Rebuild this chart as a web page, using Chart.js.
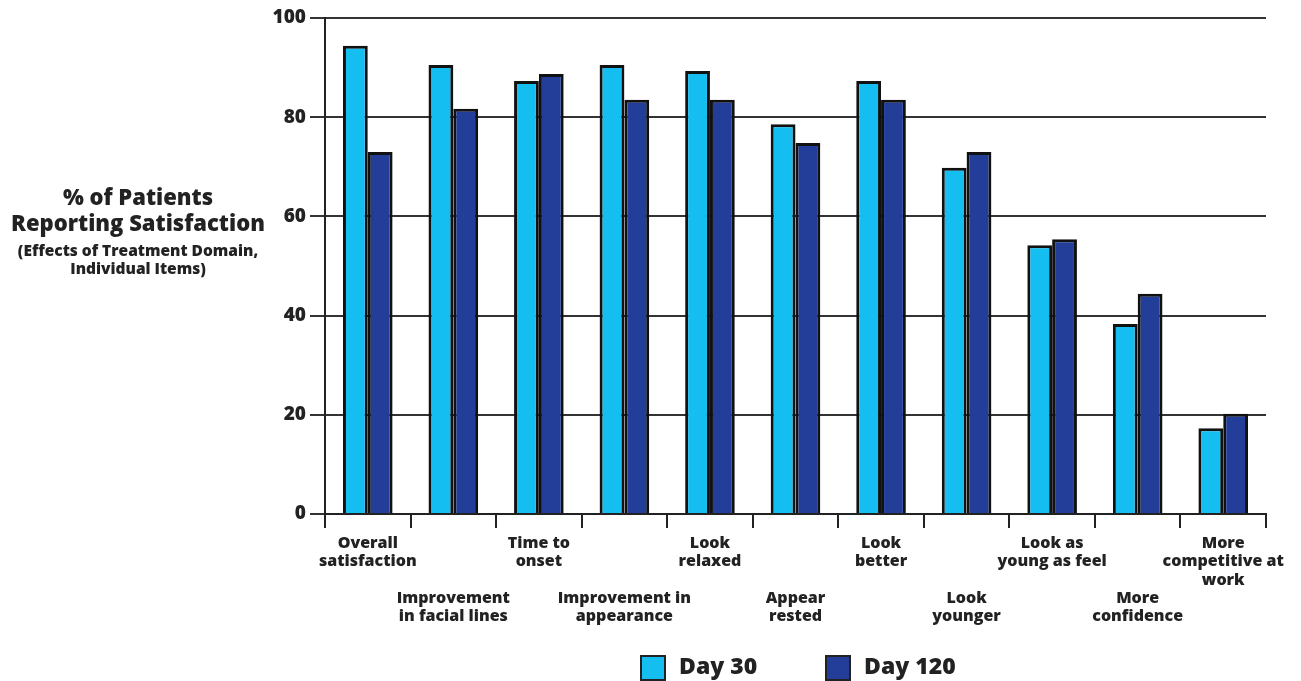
<!DOCTYPE html>
<html>
<head>
<meta charset="utf-8">
<script src="https://cdn.jsdelivr.net/npm/chart.js@4.4.1/dist/chart.umd.min.js"></script>
<style>
html,body{margin:0;padding:0;background:#fff;}
#wrap{width:1301px;height:681px;position:relative;}
</style>
</head>
<body>
<div id="wrap"><canvas id="c" width="1301" height="681"></canvas></div>
<script>
const categories = [
  ["Overall", "satisfaction"],
  ["", "", "", "Improvement", "in facial lines"],
  ["Time to", "onset"],
  ["", "", "", "Improvement in", "appearance"],
  ["Look", "relaxed"],
  ["", "", "", "Appear", "rested"],
  ["Look", "better"],
  ["", "", "", "Look", "younger"],
  ["Look as", "young as feel"],
  ["", "", "", "More", "confidence"],
  ["More", "competitive at", "work"]
];
const day30 = [94.4, 90.5, 87.3, 90.5, 89.3, 78.6, 87.3, 69.8, 54.2, 38.3, 17.3];
const day120 = [73.0, 81.7, 88.7, 83.5, 83.5, 74.8, 83.5, 73.0, 55.4, 44.4, 20.2];
const seriesNames = ["Day 30", "Day 120"];
const yTitle = ["% of Patients", "Reporting Satisfaction"];
const ySubtitle = ["(Effects of Treatment Domain,", "Individual Items)"];

const FONT = "'Open Sans', 'Noto Sans', sans-serif";
const C30 = "#15BEF0";
const C120 = "#223E98";

const titlePlugin = {
  id: "yTitleAndLegend",
  afterDraw(chart) {
    const ctx = chart.ctx;
    ctx.save();
    ctx.fillStyle = "#222";
    ctx.textAlign = "center";
    ctx.textBaseline = "middle";
    ctx.font = "800 22px " + FONT;
    ctx.fillText(yTitle[0], 138, 199);
    ctx.fillText(yTitle[1], 138, 225);
    ctx.font = "800 15.5px " + FONT;
    ctx.fillText(ySubtitle[0], 138, 252);
    ctx.fillText(ySubtitle[1], 138, 270);
    // legend
    const items = [
      {x: 641, color: C30, text: seriesNames[0]},
      {x: 826, color: C120, text: seriesNames[1]}
    ];
    ctx.textAlign = "left";
    ctx.font = "800 23px " + FONT;
    items.forEach(it => {
      ctx.fillStyle = it.color;
      ctx.fillRect(it.x, 656, 24, 24);
      ctx.strokeStyle = "#222";
      ctx.lineWidth = 2;
      ctx.strokeRect(it.x, 656, 24, 24);
      ctx.fillStyle = "#222";
      ctx.fillText(it.text, it.x + 38, 667);
    });
    ctx.restore();
  }
};

new Chart(document.getElementById("c"), {
  type: "bar",
  data: {
    labels: categories,
    datasets: [
      {label: seriesNames[0], data: day30, backgroundColor: C30, borderColor: "#111", borderWidth: 3, borderSkipped: "bottom"},
      {label: seriesNames[1], data: day120, backgroundColor: C120, borderColor: "#111", borderWidth: 3, borderSkipped: "bottom"}
    ]
  },
  options: {
    responsive: false,
    animation: false,
    devicePixelRatio: 1,
    layout: {padding: {top: 18, right: 35, left: 0, bottom: 0}},
    datasets: {bar: {categoryPercentage: 0.58, barPercentage: 1.0}},
    plugins: {legend: {display: false}, tooltip: {enabled: false}},
    scales: {
      x: {
        grid: {display: true, drawOnChartArea: false, drawTicks: true, tickLength: 14, color: "#222", lineWidth: 2, offset: true},
        border: {display: true, color: "#222", width: 2},
        ticks: {
          color: "#222", autoSkip: false, maxRotation: 0, minRotation: 0, padding: 6,
          font: {family: FONT, size: 16, weight: "800", lineHeight: 1.15}
        },
        afterFit(scale) { scale.height = 681 - 514; }
      },
      y: {
        min: 0, max: 100,
        grid: {color: "#333", lineWidth: 2, tickLength: 15, drawTicks: true},
        border: {display: true, color: "#222", width: 2},
        ticks: {
          stepSize: 20, color: "#222", padding: 4,
          font: {family: FONT, size: 19, weight: "800"}
        },
        afterFit(scale) { scale.width = 325; }
      }
    }
  },
  plugins: [titlePlugin]
});
</script>
</body>
</html>
